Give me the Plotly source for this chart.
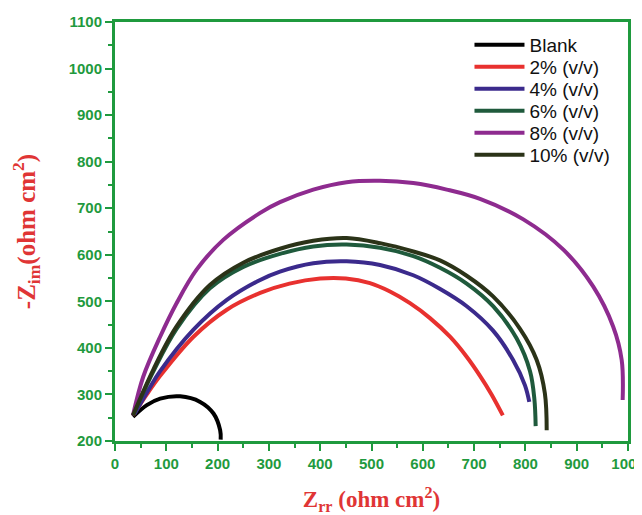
import plotly.graph_objects as go

series_names = ["Blank", "2% (v/v)", "4% (v/v)", "6% (v/v)", "8% (v/v)", "10% (v/v)"]
series_colors = ["#000000", "#e8312f", "#3b2a8c", "#1f5a3c", "#8e2b8f", "#2b3318"]

blank_x = [35, 62, 88, 127, 166, 192, 205, 206]
blank_y = [252, 277, 291, 296, 284, 259, 223, 203]

p2_x = [35, 62, 88, 153, 218, 283, 340, 400, 450, 497, 536, 575, 614, 653, 685.5, 711.5, 734, 756]
p2_y = [255, 300, 340, 424, 482, 518, 538, 549, 549, 539, 521, 496, 464, 424, 381, 340, 300, 255]

p4_x = [38, 68, 88, 153, 218, 283, 321.6, 386.5, 451.6, 516.6, 581.5, 633, 685, 737, 776, 799, 807.6]
p4_y = [258, 315, 350, 439, 503, 546, 564, 582, 586, 578, 556, 527, 490, 437, 374, 320, 284]

p6_x = [35, 75, 120, 185, 250, 321.6, 386.5, 451.6, 516.6, 581.5, 633.5, 685.5, 737.5, 783, 809, 817.5, 820]
p6_y = [255, 350, 441, 528, 574, 602, 618, 622, 615, 597, 572, 538, 489, 420, 350, 290, 232]

p8_x = [35, 55, 88, 120, 159, 211, 283, 321.6, 386.5, 451.6, 516.6, 581.5, 646.6, 711.5, 796, 874, 932, 971, 987.7, 989.6]
p8_y = [255, 338, 424, 496, 568, 632, 690, 713, 740, 756, 759, 754, 740, 720, 676, 611, 532, 446, 374, 288]

p10_x = [35, 75, 120, 185, 250, 321.6, 386.5, 451.6, 516.6, 581.5, 633.5, 685.5, 737.5, 789.5, 822, 838, 841.5]
p10_y = [255, 354, 446, 535, 583, 613, 630, 636, 625, 607, 588, 555, 510, 441, 374, 302, 223]

xs = [blank_x, p2_x, p4_x, p6_x, p8_x, p10_x]
ys = [blank_y, p2_y, p4_y, p6_y, p8_y, p10_y]

green = "#1f9a3e"
red = "#e03535"

# figure geometry (page has an 8px body margin)
W, H = 634, 507
ML, MR, MT, MB = 107, 14, 14, 74
plot_h = H - MT - MB
legend_centers_px = [37, 59, 81, 103, 125, 147]  # figure pixel rows of legend entries

fig = go.Figure()
legend_layouts = {}
for i, (name, col, x, y) in enumerate(zip(series_names, series_colors, xs, ys)):
    lg = "legend" if i == 0 else f"legend{i + 1}"
    fig.add_trace(go.Scatter(x=x, y=y, mode="lines", name=name, legend=lg,
                             line=dict(color=col, width=4, shape="spline", smoothing=1.0)))
    legend_layouts[lg] = dict(
        x=0.691, y=(H - MB - legend_centers_px[i]) / plot_h,
        xanchor="left", yanchor="middle",
        font=dict(family="Liberation Sans, Arial", size=19, color="#111111"),
        bgcolor="rgba(0,0,0,0)", itemwidth=50,
    )

axis_common = dict(
    showline=True, linecolor=green, linewidth=3, mirror=True,
    ticks="outside", ticklen=7, tickwidth=2, tickcolor=green,
    tickfont=dict(family="Liberation Sans, Arial", size=15, color=green, weight="bold"),
    ticklabeloverflow="allow",
    showgrid=False, zeroline=False,
    minor=dict(ticks="outside", ticklen=4, tickwidth=2, tickcolor=green, dtick=50, showgrid=False),
)

fig.update_xaxes(range=[0, 1000], dtick=100, tick0=0, **axis_common,
                 title=dict(text="Z<sub>rr</sub> (ohm cm<sup>2</sup>)", standoff=25,
                            font=dict(family="Liberation Serif, Times New Roman", size=23, color=red, weight="bold")))
fig.update_yaxes(range=[200, 1100], dtick=100, tick0=0, **axis_common,
                 title=dict(text="-Z<sub>im</sub>(ohm cm<sup>2</sup>)", standoff=28,
                            font=dict(family="Liberation Serif, Times New Roman", size=25, color=red, weight="bold")))

fig.update_layout(
    width=W, height=H,
    margin=dict(l=ML, r=MR, t=MT, b=MB, autoexpand=False),
    paper_bgcolor="white", plot_bgcolor="white",
    showlegend=True,
    **legend_layouts,
)

fig.write_html("out.html")
